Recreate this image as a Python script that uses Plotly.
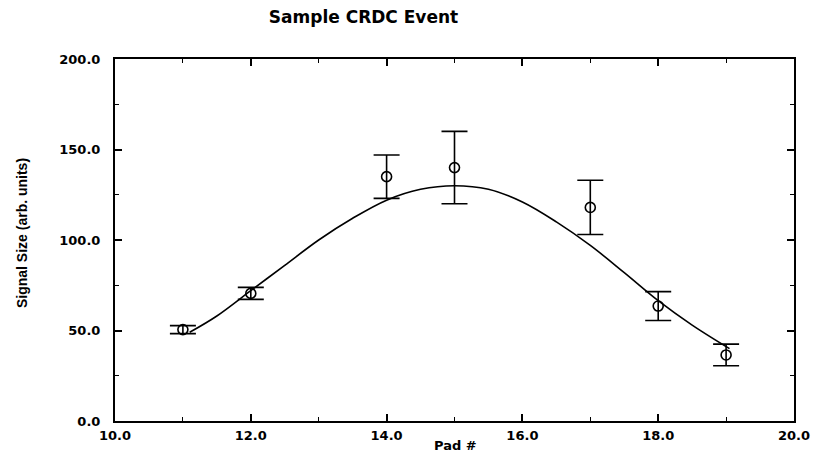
import plotly.graph_objects as go

# Measured pad signals
pads = [11, 12, 14, 15, 17, 18, 19]
signal = [50.5, 70.5, 135.0, 140.0, 118.0, 63.5, 36.5]
signal_err = [2.2, 3.3, 12.0, 20.0, 15.0, 8.0, 6.0]

# Fitted curve through the pad signals
fit_x = [11.1, 11.5, 12.0, 12.5, 13.0, 13.5, 14.0, 14.5, 15.0, 15.5,
         16.0, 16.5, 17.0, 17.5, 18.0, 18.5, 19.05]
fit_y = [49.0, 58.0, 72.0, 86.0, 100.0, 112.0, 122.0, 128.0, 130.0, 128.0,
         121.0, 110.0, 97.0, 82.0, 66.5, 53.0, 40.0]

x_ticks = [10, 12, 14, 16, 18, 20]
x_tick_labels = ["10.0", "12.0", "14.0", "16.0", "18.0", "20.0"]
y_ticks = [0, 50, 100, 150, 200]
y_tick_labels = ["0.0", "50.0", "100.0", "150.0", "200.0"]

WIDE = "DejaVu Sans, Verdana, sans-serif"
NARROW = "Liberation Sans Narrow, Liberation Sans, Arial, sans-serif"

fig = go.Figure()

fig.add_trace(go.Scatter(
    x=fit_x, y=fit_y, mode="lines",
    line=dict(color="black", width=1.6, shape="spline", smoothing=1.0),
    hoverinfo="skip", showlegend=False,
))

fig.add_trace(go.Scatter(
    x=pads, y=signal, mode="markers",
    marker=dict(symbol="circle-open", size=10, color="black",
                line=dict(color="black", width=1.6)),
    error_y=dict(type="data", array=signal_err, visible=True,
                 color="black", thickness=1.6, width=13),
    showlegend=False,
))

tick_font = dict(family=WIDE, size=13, color="black", weight="bold")

axis_common = dict(
    showgrid=False, zeroline=False, showline=True, linecolor="black",
    linewidth=2, mirror="allticks", ticks="inside", ticklen=7,
    tickwidth=1.5, tickcolor="black", tickfont=tick_font,
)

fig.update_xaxes(
    range=[10, 20], tickmode="array", tickvals=x_ticks, ticktext=x_tick_labels,
    minor=dict(ticks="inside", dtick=1, ticklen=4, tickcolor="black", tickwidth=1),
    ticklabelstandoff=1,
    **axis_common,
)
fig.update_yaxes(
    range=[0, 200], tickmode="array", tickvals=y_ticks, ticktext=y_tick_labels,
    minor=dict(ticks="inside", dtick=25, ticklen=4, tickcolor="black", tickwidth=1),
    ticklabelstandoff=10,
    **axis_common,
)

# Axis titles
fig.add_annotation(
    text="Pad #", xref="paper", yref="paper", x=0.502, y=-0.068,
    xanchor="center", yanchor="middle", showarrow=False,
    font=dict(family=WIDE, size=13, color="black", weight="bold"),
)
fig.add_annotation(
    text="Signal Size (arb. units)", xref="paper", yref="paper",
    x=-0.138, y=0.52, xanchor="center", yanchor="middle", textangle=-90,
    showarrow=False,
    font=dict(family=NARROW, size=14, color="black", weight="bold"),
)

fig.update_layout(
    width=822, height=455,
    margin=dict(l=115, r=24, t=59, b=34),
    paper_bgcolor="white", plot_bgcolor="white",
    title=dict(text="Sample CRDC Event", xref="paper", x=0.366, xanchor="center",
               y=0.962, yanchor="middle",
               font=dict(family=WIDE, size=17, color="black", weight="bold")),
)

fig.write_html("out.html")
